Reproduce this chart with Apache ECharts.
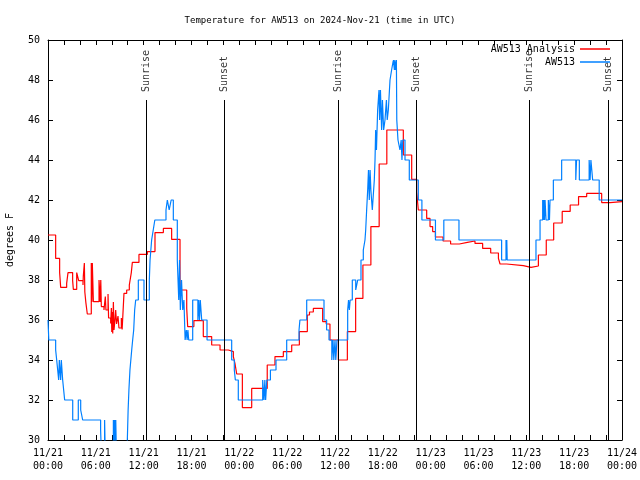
<!DOCTYPE html>
<html>
<head>
<meta charset="utf-8">
<script src="https://cdn.jsdelivr.net/npm/echarts@6/dist/echarts.min.js"></script>
<style>html,body{margin:0;padding:0;background:#fff;}#c{width:640px;height:480px;}</style>
</head>
<body>
<div id="c"></div>
<script>
const tickLabels = ['11/21\n00:00','11/21\n06:00','11/21\n12:00','11/21\n18:00','11/22\n00:00','11/22\n06:00','11/22\n12:00','11/22\n18:00','11/23\n00:00','11/23\n06:00','11/23\n12:00','11/23\n18:00','11/24\n00:00'];

// hours since 2024-11-21 00:00 UTC
const analysisHours = [0,0.96,1.46,1.59,2.34,2.51,3.09,3.18,3.6,3.85,4.39,4.43,4.56,4.62,4.75,4.93,5.43,5.5,5.56,5.69,6.4,6.55,6.62,6.69,7.02,7.19,7.27,7.53,7.6,7.86,7.95,8.0,8.05,8.12,8.2,8.28,8.4,8.49,8.6,8.78,8.9,9.2,9.3,9.53,9.87,10.2,10.45,10.58,11.41,12.46,13.42,14.47,15.51,16.56,17.4,17.52,18.3,19.48,20.53,21.58,22.62,23.25,23.45,23.67,24.38,25.55,27.5,28.47,29.52,30.57,31.53,32.53,32.8,33.28,34.45,34.9,35.37,36.42,37.55,38.59,39.5,40.5,41.54,42.5,44.57,45.62,46.25,46.45,47.5,47.92,48.25,48.6,49.55,50.5,51.6,52.6,53.56,54.52,55.53,56.5,56.7,57.53,59.62,60.59,61.51,62.5,63.43,64.5,65.5,66.55,67.57,69.45,70.5,72];
const analysisTemps = [40.25,39.08,38.37,37.63,37.83,38.37,37.97,37.53,38.37,37.97,37.75,38.2,38.85,37.4,36.87,36.3,38.85,36.9,38.85,36.92,38.0,36.9,38.0,36.67,36.5,37.17,36.5,37.3,36.1,35.83,36.6,35.4,36.4,35.33,36.9,35.5,36.0,36.5,35.8,36.2,35.6,36.1,35.53,37.33,37.5,37.75,38.37,38.88,39.28,39.42,40.37,40.58,40.03,37.5,36.58,35.67,35.97,35.17,34.75,34.5,34.42,34.17,33.83,33.3,31.62,32.58,33.75,34.17,34.42,34.75,35.42,36.25,36.4,36.58,35.92,35.8,35.0,34.0,35.42,37.08,38.75,40.67,43.8,45.5,44.25,43.03,42.4,41.5,41.08,40.67,40.42,40.15,39.95,39.8,39.88,39.95,39.83,39.58,39.35,39.08,38.8,38.72,38.63,38.7,39.25,40.0,40.85,41.43,41.75,42.17,42.33,41.87,41.92,41.92];

const obsHours = [0,0.1,0.96,1.09,1.34,1.42,1.59,1.67,1.84,2.09,3.1,3.8,4.1,4.35,6.6,6.68,7.1,7.17,8.2,8.27,8.35,8.42,8.5,8.57,9.95,10.05,10.15,10.28,10.5,10.62,10.75,10.87,11.0,11.33,12.04,12.71,12.8,13.0,13.2,13.4,14.8,14.97,15.2,15.45,15.72,16.22,16.4,16.5,16.6,16.75,16.9,17.05,17.2,17.35,17.45,17.55,17.65,18.15,18.8,18.9,19.0,19.1,19.28,19.95,23.04,23.37,23.5,23.87,26.93,27.1,27.2,27.3,27.45,27.9,28.6,29.94,31.49,31.6,32.45,34.62,34.95,35.25,35.6,35.75,35.85,36.0,36.1,36.25,37.59,37.7,37.8,37.9,38.17,38.6,38.85,39.26,39.55,39.76,39.85,39.97,40.1,40.2,40.3,40.4,40.5,40.68,40.93,41.02,41.1,41.2,41.35,41.52,41.6,41.7,41.85,41.95,42.1,42.27,42.45,42.55,42.69,42.9,43.1,43.32,43.45,43.5,43.6,43.7,43.75,43.9,44.15,44.3,44.4,44.5,44.78,45.32,46.45,46.9,48.6,49.65,51.55,56.9,57.45,57.5,57.55,57.6,61.21,61.72,62.05,62.12,62.2,62.27,62.35,62.47,62.76,62.9,62.97,63.39,64.43,66.2,66.3,66.65,67.88,68.0,68.1,68.32,69.14,72];
const obsTemps = [36.0,35.0,34.5,34.0,33.0,34.0,33.0,34.0,33.0,32.0,31.0,32.0,31.5,31.0,30.5,29.5,31.0,29.5,31.0,29.5,31.0,29.5,31.0,29.5,30.0,31.5,32.5,33.5,34.5,35.0,35.5,36.5,37.0,38.0,37.0,38.0,39.0,40.0,40.5,41.0,41.5,42.0,41.5,42.0,41.0,39.0,37.0,39.0,36.5,38.0,36.5,37.0,35.0,35.5,35.0,35.5,35.0,37.0,36.0,37.0,36.0,37.0,36.0,35.0,34.0,33.5,33.0,32.0,33.0,32.0,33.0,32.0,33.0,33.5,34.0,35.0,35.5,36.0,37.0,36.0,35.5,35.0,34.0,35.0,34.0,35.0,34.0,35.0,36.5,37.0,36.5,37.0,38.0,37.5,38.0,39.0,39.5,40.0,40.5,41.5,42.5,43.5,42.0,43.5,42.5,41.5,43.0,44.0,45.5,44.5,46.5,47.5,46.0,47.5,45.5,47.0,45.5,46.0,47.0,46.0,46.5,48.0,48.5,49.0,48.5,49.0,48.5,49.0,46.0,45.0,44.5,45.0,44.0,45.0,44.0,43.0,42.0,41.0,40.0,41.0,40.0,39.0,40.0,39.0,40.0,39.0,40.0,41.0,42.0,41.0,42.0,41.0,42.0,41.0,42.0,41.0,42.0,43.0,44.0,43.0,44.0,43.0,44.0,43.0,44.0,43.0,42.0,42.0];

const sunHours = [12.33, 22.12, 36.42, 46.16, 60.38, 70.29];
const sunNames = ['Sunrise','Sunset','Sunrise','Sunset','Sunrise','Sunset'];
const sunLineTop = 47;
const sunLabelBase = 47.4;

const FONT = 'DejaVu Sans Mono';
const zip = (a, b) => a.map((v, i) => [v, b[i]]);

const chart = echarts.init(document.getElementById('c'), null, {renderer: 'canvas'});
const xCommon = {
  type: 'value', min: 0, max: 72, interval: 6,
  axisLine: {show: true, onZero: false, lineStyle: {color: '#000', width: 1}},
  axisTick: {show: true, inside: true, length: 5, lineStyle: {color: '#000'}},
  minorTick: {show: true, splitNumber: 3, length: 5, lineStyle: {color: '#000'}},
  splitLine: {show: false}
};
const yCommon = {
  type: 'value', min: 30, max: 50, interval: 2,
  axisLine: {show: true, onZero: false, lineStyle: {color: '#000', width: 1}},
  axisTick: {show: true, inside: true, length: 5, lineStyle: {color: '#000'}},
  splitLine: {show: false}
};
chart.setOption({
  animation: false,
  backgroundColor: '#fff',
  title: {
    text: 'Temperature for AW513 on 2024-Nov-21 (time in UTC)',
    left: 'center', top: 11,
    textStyle: {fontFamily: FONT, fontSize: 9, fontWeight: 'normal', color: '#000'}
  },
  legend: [
    {data: [{name: 'AW513 Analysis'}], right: 30, top: 44, padding: 0, align: 'right', icon: 'rect', itemWidth: 30, itemHeight: 1.5,
     textStyle: {fontFamily: FONT, fontSize: 10, color: '#000'}, selectedMode: false},
    {data: [{name: 'AW513'}], right: 30, top: 57, padding: 0, align: 'right', icon: 'rect', itemWidth: 30, itemHeight: 1.5,
     textStyle: {fontFamily: FONT, fontSize: 10, color: '#000'}, selectedMode: false}
  ],
  grid: {left: 48, right: 18, top: 40, bottom: 40, containLabel: false, outerBoundsMode: 'none'},
  xAxis: [
    Object.assign({}, xCommon, {position: 'bottom',
      axisLabel: {show: true, margin: 7, lineHeight: 13, fontFamily: FONT, fontSize: 10, color: '#000',
        formatter: v => tickLabels[Math.round(v / 6)]}}),
    Object.assign({}, xCommon, {position: 'top', axisLabel: {show: false}})
  ],
  yAxis: [
    Object.assign({}, yCommon, {position: 'left',
      name: 'degrees F', nameLocation: 'middle', nameGap: 33, nameRotate: 90,
      nameTextStyle: {fontFamily: FONT, fontSize: 10, color: '#000'},
      axisLabel: {show: true, margin: 8, fontFamily: FONT, fontSize: 10, color: '#000'}}),
    Object.assign({}, yCommon, {position: 'right', axisLabel: {show: false}})
  ],
  series: [
    {
      name: 'sun', type: 'scatter', xAxisIndex: 0, yAxisIndex: 0, silent: true,
      symbolSize: 0, data: sunHours.map(h => [h, sunLabelBase]),
      label: {show: true, position: 'inside', align: 'left', verticalAlign: 'middle', rotate: 90,
        formatter: p => sunNames[p.dataIndex], fontFamily: FONT, fontSize: 10, color: '#000'},
      markLine: {
        silent: true, symbol: ['none', 'none'], label: {show: false},
        lineStyle: {color: '#000', width: 1, type: 'solid'},
        data: sunHours.map(h => [{coord: [h, 30]}, {coord: [h, sunLineTop]}])
      }
    },
    {
      name: 'AW513 Analysis', type: 'line', step: 'end', xAxisIndex: 0, yAxisIndex: 0,
      showSymbol: false, symbol: 'none', clip: true,
      data: zip(analysisHours, analysisTemps),
      lineStyle: {color: '#ff0000', width: 1.2}, itemStyle: {color: '#ff0000'}
    },
    {
      name: 'AW513', type: 'line', step: 'end', xAxisIndex: 0, yAxisIndex: 0,
      showSymbol: false, symbol: 'none', clip: true,
      data: zip(obsHours, obsTemps),
      lineStyle: {color: '#0080ff', width: 1.2}, itemStyle: {color: '#0080ff'}
    }
  ]
});
</script>
</body>
</html>
